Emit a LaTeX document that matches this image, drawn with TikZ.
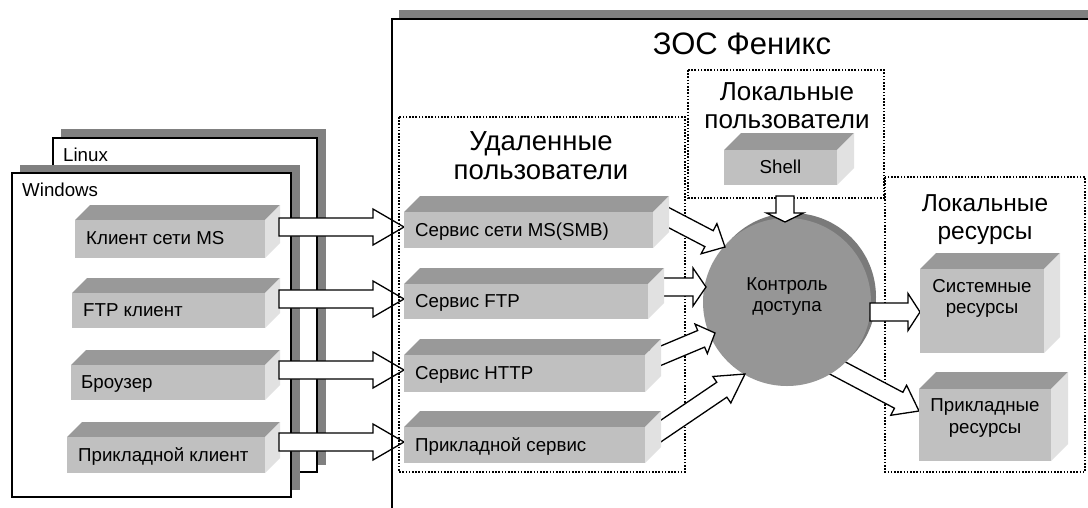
\documentclass[tikz,border=0pt]{standalone}
\usepackage{fontspec}
\setmainfont{Liberation Sans}
\usetikzlibrary{calc}

\definecolor{shadowgray}{HTML}{808080}
\definecolor{facefront}{HTML}{C0C0C0}
\definecolor{facetop}{HTML}{999999}
\definecolor{faceside}{HTML}{E1E1E1}
\definecolor{discgray}{HTML}{969696}
\definecolor{discrim}{HTML}{7A7A7A}

% 3D bar: name, x1, y1 (top-left of front face), x2, y2 (bottom-right), depth
\newcommand\boxthree[6]{%
  \fill[facetop] (#2,#3) -- (#2+#6,#3-#6) -- (#4+#6,#3-#6) -- (#4,#3) -- cycle;
  \fill[faceside] (#4,#3) -- (#4+#6,#3-#6) -- (#4+#6,#5-#6) -- (#4,#5) -- cycle;
  \node[frontface, anchor=north west, minimum width={#4pt-#2pt},
        minimum height={#5pt-#3pt}] (#1) at (#2,#3) {};
}

% hollow block arrow: from, to, head length, head half-width
\newcommand\blockarrow[4]{%
  \coordinate (ba-neck) at ($(#2)!#3pt!(#1)$);
  \draw[blockarrowstyle]
    ($(#1)!9pt!90:(#2)$) -- ($(ba-neck)!9pt!90:(#2)$) -- ($(ba-neck)!#4pt!90:(#2)$)
    -- (#2) -- ($(ba-neck)!#4pt!-90:(#2)$) -- ($(ba-neck)!9pt!-90:(#2)$)
    -- ($(#1)!9pt!-90:(#2)$) -- cycle;
}

% two centred lines, baseline at the first one
\newcommand\twoline[3]{\vtop{\baselineskip=#1\relax\halign{\hfil##\hfil\cr#2\cr#3\cr}}}

\tikzset{
  win/.style={draw=black, line width=2pt, fill=white},
  dotbox/.style={draw=black, line width=1.6pt, dash pattern=on 1.6pt off 1.6pt},
  lbl/.style={font=\fontsize{18.7}{21}\selectfont, inner sep=0pt},
  title/.style={font=\fontsize{26}{28}\selectfont, inner sep=0pt},
  frontface/.style={fill=facefront, draw=none, inner sep=0pt, outer sep=0pt},
  blockarrowstyle/.style={draw=black, fill=white, line width=1.3pt, line join=miter},
}

\begin{document}
\begin{tikzpicture}[x=1pt,y=-1pt]
\useasboundingbox (0,0) rectangle (1088,507);
\clip (0,0) rectangle (1088,507);

% system frame: shadow and body
\fill[shadowgray] (399,10) rectangle (1100,520);
\fill[white] (392,19) rectangle (1100,520);

% client workstations
\fill[shadowgray] (61,129) rectangle (326,465);
\draw[win] (53,138) rectangle (317,472);
\fill[shadowgray] (20,165) rectangle (300,490);
\draw[win] (12,173) rectangle (291,497);
\node[lbl, anchor=base west] (linux) at (63,161) {Linux};
\node[lbl, anchor=base west] (windows) at (22,196) {Windows};

% client programs
\boxthree{c1}{75}{220}{265}{258}{15}
\boxthree{c2}{72}{293}{265}{328}{15}
\boxthree{c3}{71}{365}{265}{400}{15}
\boxthree{c4}{67}{437}{265}{473}{15}
\node[lbl, anchor=base west] (c1t) at ($(c1.west)+(11,5)$) {Клиент сети MS};
\node[lbl, anchor=base west] (c2t) at ($(c2.west)+(11,6)$) {FTP клиент};
\node[lbl, anchor=base west] (c3t) at ($(c3.west)+(10,6)$) {Броузер};
\node[lbl, anchor=base west] (c4t) at ($(c4.west)+(11,6)$) {Прикладной клиент};

% client -> service arrows
\coordinate (c1o) at (279,227); \coordinate (s1i) at (404,227);
\coordinate (c2o) at (279,299); \coordinate (s2i) at (404,299);
\coordinate (c3o) at (279,370); \coordinate (s3i) at (404,370);
\coordinate (c4o) at (279,442); \coordinate (s4i) at (404,442);
\blockarrow{c1o}{s1i}{31}{18}
\blockarrow{c2o}{s2i}{31}{18}
\blockarrow{c3o}{s3i}{31}{18}
\blockarrow{c4o}{s4i}{31}{18}

% system frame border and title
\draw[line width=2pt] (392,520) -- (392,19) -- (1100,19);
\node[title, font=\fontsize{31}{33}\selectfont, anchor=base] (zos) at (742,54) {ЗОС Феникс};

% groups
\draw[dotbox] (399,117) rectangle (685,472);
\draw[dotbox] (688,70) rectangle (884,198);
\draw[dotbox] (885,177) rectangle (1085,472);
\node[title, font=\fontsize{27.5}{29}\selectfont, anchor=base] (remote) at (541,150) {\twoline{29pt}{Удаленные}{пользователи}};
\node[title, anchor=base] (localu) at (787,100) {\twoline{28pt}{Локальные}{пользователи}};
\node[title, font=\fontsize{24.5}{28}\selectfont, anchor=base] (localr) at (985,211) {\twoline{28pt}{Локальные}{ресурсы}};

% access control disc
\coordinate (aclo2) at (830,364); \coordinate (r2i) at (919,411);
\blockarrow{aclo2}{r2i}{23}{17}
\node[circle, fill=discrim, minimum size=168pt, inner sep=0pt] (aclrim) at (792,297) {};
\node[circle, fill=discgray, minimum size=168pt, inner sep=0pt] (acl) at (787,302) {};
\node[lbl, anchor=base] (aclt) at (787,290) {\twoline{21pt}{Контроль}{доступа}};

\coordinate (aclo1) at (870,312); \coordinate (r1i) at (920,312);
\blockarrow{aclo1}{r1i}{12}{18.5}

% service -> access control arrows
\coordinate (s1o) at (658,212); \coordinate (acli1) at (725,247);
\coordinate (s2o) at (656,287); \coordinate (acli2) at (706,287);
\coordinate (s3o) at (653,359); \coordinate (acli3) at (715,333);
\coordinate (s4o) at (655,435); \coordinate (acli4) at (745,374);
\blockarrow{s1o}{acli1}{18}{17}
\blockarrow{s2o}{acli2}{13}{19}
\blockarrow{s3o}{acli3}{15}{16}
\blockarrow{s4o}{acli4}{28}{16}

% services
\boxthree{s1}{404}{212}{653}{248}{16}
\boxthree{s2}{404}{284}{648}{319}{16}
\boxthree{s3}{404}{355}{645}{392}{16}
\boxthree{s4}{404}{427}{645}{463}{16}
\node[lbl, anchor=base west] (s1t) at ($(s1.west)+(11,6)$) {Сервис сети MS(SMB)};
\node[lbl, anchor=base west] (s2t) at ($(s2.west)+(11,6)$) {Сервис FTP};
\node[lbl, anchor=base west] (s3t) at ($(s3.west)+(11,6)$) {Сервис HTTP};
\node[lbl, anchor=base west] (s4t) at ($(s4.west)+(11,6)$) {Прикладной сервис};

% local shell
\boxthree{sh}{724}{150}{837}{185}{17}
\node[lbl, anchor=base] (sht) at ($(sh.center)+(0,6)$) {Shell};
\coordinate (sho) at (785,196); \coordinate (acli0) at (785,222);
\blockarrow{sho}{acli0}{9}{18.5}

% local resources
\boxthree{r1}{920}{269}{1044}{353}{16}
\boxthree{r2}{919}{389}{1051}{461}{17}
\node[lbl, anchor=base] (r1t) at (982,292) {\twoline{21pt}{Системные}{ресурсы}};
\node[lbl, anchor=base] (r2t) at (985,411) {\twoline{22pt}{Прикладные}{ресурсы}};
\end{tikzpicture}
\end{document}
